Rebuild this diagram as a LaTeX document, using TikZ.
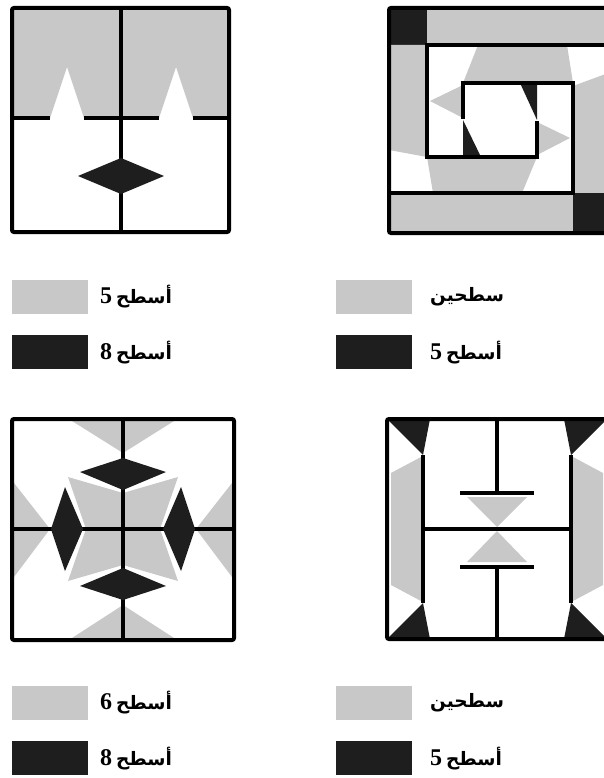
\documentclass[tikz,border=0pt]{standalone}
\usepackage{fontspec}
\newfontfamily\arabicfont[Script=Arabic]{DejaVu Sans}
\newfontfamily\digitfont{Liberation Serif}
\TeXXeTstate=1
\newcommand\mydg[1]{{\digitfont\fontsize{24}{26}\selectfont #1}}
\newcommand\myar[1]{{\arabicfont\fontsize{18.5}{22}\selectfont\beginR #1\endR}}
\definecolor{lg}{RGB}{200,200,200}
\definecolor{dk}{RGB}{30,30,30}
\tikzset{
  wall/.style={draw=black, line width=4pt, line join=miter},
  border/.style={draw=black, line width=4pt, rounded corners=2pt},
  swatch/.style={draw=none, minimum width=76pt, minimum height=34pt, inner sep=0pt},
  lbl/.style={anchor=west, inner sep=0pt, font=\bfseries}
}
\begin{document}
\begin{tikzpicture}[x=1pt,y=-1pt]
\useasboundingbox (0,0) rectangle (603,778);
\fill[white] (0,0) rectangle (603,778);

% ---------- panel 1 (top left)
\fill[lg] (12,8) -- (229,8) -- (229,118) -- (193,118) -- (176,67) -- (159,118)
  -- (84,118) -- (67,67) -- (50,118) -- (12,118) -- cycle;
\draw[wall] (121,8) -- (121,232);
\draw[wall] (12,118) -- (50,118);
\draw[wall] (84,118) -- (159,118);
\draw[wall] (193,118) -- (229,118);
\fill[dk] (78,176) -- (121,158) -- (164,176) -- (121,194) -- cycle;
\draw[border] (12,8) rectangle (229,232);

% ---------- panel 2 (top right)
\fill[dk] (389,8) rectangle (427,45);
\fill[lg] (427,8) rectangle (611,45);
\fill[lg] (389,45) -- (427,45) -- (427,157) -- (389,150) -- cycle;
\fill[lg] (478,45) -- (567,45) -- (573,83) -- (463,83) -- cycle;
\fill[lg] (430,101) -- (463,85) -- (463,118) -- cycle;
\fill[lg] (573,86) -- (611,72) -- (611,193) -- (573,193) -- cycle;
\fill[lg] (570,138) -- (537,122) -- (537,155) -- cycle;
\fill[lg] (427,157) -- (537,157) -- (522,193) -- (433,193) -- cycle;
\fill[lg] (389,193) rectangle (573,233);
\fill[dk] (573,193) rectangle (611,233);
\fill[dk] (520,83) -- (537,83) -- (537,120) -- cycle;
\fill[dk] (463,120) -- (463,157) -- (481,157) -- cycle;
\draw[wall] (611,45) -- (427,45) -- (427,157) -- (537,157) -- (537,121);
\draw[wall] (389,193) -- (573,193) -- (573,83) -- (463,83) -- (463,119);
\draw[border] (389,8) rectangle (611,233);

% ---------- panel 3 (bottom left)
\fill[lg] (72,421) -- (174,421) -- (123,453) -- cycle;
\fill[lg] (72,638) -- (174,638) -- (123,605) -- cycle;
\fill[lg] (14,483) -- (50,529) -- (14,577) -- cycle;
\fill[lg] (232,483) -- (196,529) -- (232,577) -- cycle;
\fill[lg] (68,477) -- (123,493) -- (123,529) -- (86,529) -- cycle;
\fill[lg] (178,477) -- (123,493) -- (123,529) -- (160,529) -- cycle;
\fill[lg] (68,581) -- (123,565) -- (123,529) -- (86,529) -- cycle;
\fill[lg] (178,581) -- (123,565) -- (123,529) -- (160,529) -- cycle;
\draw[wall] (123,419) -- (123,640);
\draw[wall] (12,529) -- (234,529);
\fill[dk] (80,472) -- (123,458) -- (166,472) -- (123,490) -- cycle;
\fill[dk] (80,586) -- (123,600) -- (166,586) -- (123,568) -- cycle;
\fill[dk] (65,487) -- (51,529) -- (65,571) -- (83,529) -- cycle;
\fill[dk] (181,487) -- (195,529) -- (181,571) -- (163,529) -- cycle;
\draw[border] (12,419) rectangle (234,640);

% ---------- panel 4 (bottom right)
\fill[dk] (387,419) -- (430,419) -- (423,455) -- cycle;
\fill[dk] (607,419) -- (564,419) -- (571,455) -- cycle;
\fill[dk] (387,639) -- (430,639) -- (423,603) -- cycle;
\fill[dk] (607,639) -- (564,639) -- (571,603) -- cycle;
\fill[lg] (391,473) -- (421,457) -- (421,601) -- (391,585) -- cycle;
\fill[lg] (603,473) -- (573,457) -- (573,601) -- (603,585) -- cycle;
\fill[lg] (467,497) -- (527,497) -- (497,527) -- cycle;
\fill[lg] (497,531) -- (467,562) -- (527,562) -- cycle;
\draw[wall] (423,455) -- (423,603);
\draw[wall] (571,455) -- (571,603);
\draw[wall] (423,529) -- (571,529);
\draw[wall] (497,419) -- (497,493);
\draw[wall] (460,493) -- (534,493);
\draw[wall] (497,567) -- (497,639);
\draw[wall] (460,567) -- (534,567);
\draw[border] (387,419) rectangle (607,639);

% ---------- legends
\node[swatch, fill=lg] (s1a) at (50,296.5) {};
\node[swatch, fill=dk] (s1b) at (50,352) {};
\node[lbl] (t1a) at (100,297) {\mydg{5} \myar{أسطح}};
\node[lbl] (t1b) at (100,352.5) {\mydg{8} \myar{أسطح}};

\node[swatch, fill=lg] (s2a) at (374,296.5) {};
\node[swatch, fill=dk] (s2b) at (374,352) {};
\node[lbl] (t2a) at (430,297) {\myar{سطحين}};
\node[lbl] (t2b) at (430,352.5) {\mydg{5} \myar{أسطح}};

\node[swatch, fill=lg] (s3a) at (50,702.5) {};
\node[swatch, fill=dk] (s3b) at (50,758) {};
\node[lbl] (t3a) at (100,703) {\mydg{6} \myar{أسطح}};
\node[lbl] (t3b) at (100,758.5) {\mydg{8} \myar{أسطح}};

\node[swatch, fill=lg] (s4a) at (374,702.5) {};
\node[swatch, fill=dk] (s4b) at (374,758) {};
\node[lbl] (t4a) at (430,703) {\myar{سطحين}};
\node[lbl] (t4b) at (430,758.5) {\mydg{5} \myar{أسطح}};
\end{tikzpicture}
\end{document}
